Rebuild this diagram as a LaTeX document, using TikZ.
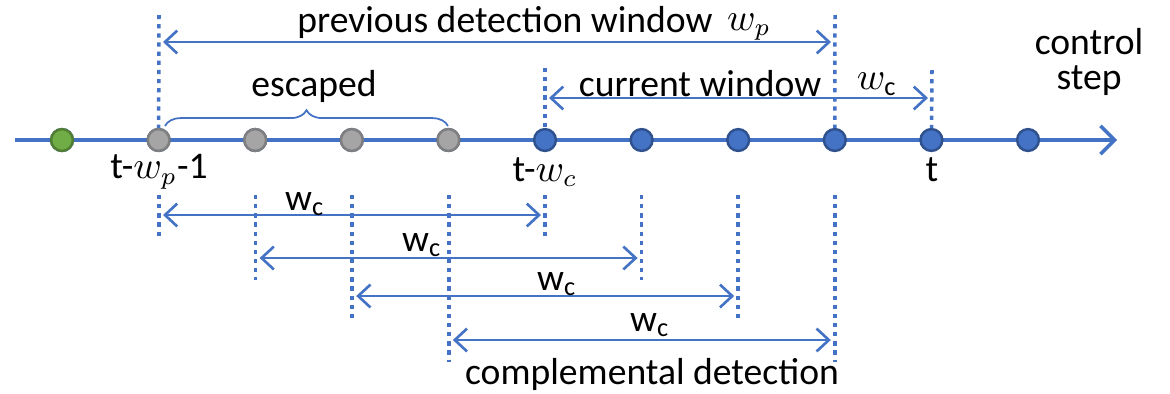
\documentclass[tikz,border=0pt]{standalone}
\usepackage{fontspec}
\setmainfont{Carlito}
\usetikzlibrary{arrows.meta,decorations.pathreplacing}

\definecolor{lineblue}{HTML}{4472C4}
\definecolor{dotrim}{HTML}{2F528F}
\definecolor{escgray}{HTML}{A5A5A5}
\definecolor{escrim}{HTML}{7F7F7F}
\definecolor{startgreen}{HTML}{70AD47}
\definecolor{startrim}{HTML}{507E32}

\tikzset{
  guide/.style={lineblue,line width=1pt,dash pattern=on 1.2pt off 1.4pt},
  span/.style={lineblue,line width=0.75pt,
    {Straight Barb[length=3.5pt,width=6.5pt]}-{Straight Barb[length=3.5pt,width=6.5pt]}},
  stepdot/.style={circle,draw,line width=0.7pt,minimum size=6.2pt,inner sep=0pt},
  lbl/.style={inner sep=1pt,font=\fontsize{10.7}{10}\selectfont},
}

\begin{document}
\begin{tikzpicture}[x=0.01cm,y=-0.01cm]
  \useasboundingbox (0,0) rectangle (1170,393);
  % time axis
  \coordinate (ax0) at (15,140);
  \coordinate (ax1) at (1117,140);
  \draw[lineblue,line width=1pt,-{Straight Barb[length=4pt,width=8pt]}] (ax0) -- (ax1);
  \node[lbl,align=center] (ctrl) at (1089,62) {control\\step};
  % control steps
  \foreach \i in {0,...,10}{
    \node[stepdot,draw=dotrim,fill=lineblue] (d\i) at (62+96.6*\i,140) {};
  }
  \node[stepdot,draw=startrim,fill=startgreen] at (d0) {};
  \foreach \i in {1,...,4}{
    \node[stepdot,draw=escrim,fill=escgray] at (d\i) {};
  }
  % guides above the axis
  \coordinate (g1) at (159,15);
  \coordinate (g5) at (545,68);
  \coordinate (g8) at (835,15);
  \coordinate (g9) at (932,70);
  \draw[guide] (g1) -- (d1);
  \draw[guide] (g5) -- (d5);
  \draw[guide] (g8) -- (d8);
  \draw[guide] (g9) -- (d9);
  % previous and current window
  \coordinate (pl) at (163,42);
  \coordinate (pr) at (831,42);
  \draw[span] (pl) -- (pr);
  \node[lbl] (prevtxt) at (505,22) {previous detection window};
  \node[lbl] (wptxt) at (749,27) {$w_p$};
  \coordinate (cl) at (549,98);
  \coordinate (cr) at (928,98);
  \draw[span] (cl) -- (cr);
  \node[lbl] (curtxt) at (700,84) {current window};
  \node[lbl] (wctxt) at (877,84) {$w_{\mathrm{c}}$};
  % escaped steps
  \coordinate (el) at (165,126);
  \coordinate (er) at (448,126);
  \draw[lineblue,line width=0.5pt,decorate,decoration={brace,amplitude=4.5pt}] (el) -- (er);
  \node[lbl] (esc) at (314,86) {escaped};
  % step labels
  \node[lbl] (tp) at (159,172) {t-$w_p$-1};
  \node[lbl] (tc) at (545,172) {t-$w_c$};
  \node[lbl] (tt) at (932,170) {t};
  % shifted windows below the axis
  \foreach \k/\y/\lx/\ly in {0/215/305/204, 1/258/422/245, 2/296/557/284, 3/340/650/325}{
    \pgfmathsetmacro{\xl}{159+96.6*\k}
    \pgfmathsetmacro{\xr}{545+96.6*\k}
    \draw[guide] (\xl,195) -- (\xl,\y+22);
    \draw[guide] (\xr,195) -- (\xr,\y+22);
    \coordinate (wl\k) at (\xl+4,\y);
    \coordinate (wr\k) at (\xr-4,\y);
    \draw[span] (wl\k) -- (wr\k);
    \node[lbl] (wc\k) at (\lx,\ly) {w\textsubscript{c}};
  }
  \node[lbl] (comp) at (652,374) {complemental detection};
\end{tikzpicture}
\end{document}
